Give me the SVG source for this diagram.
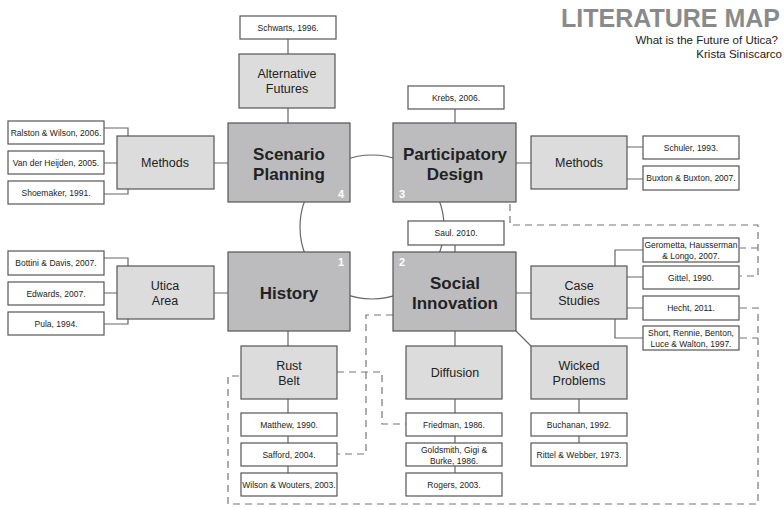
<svg xmlns="http://www.w3.org/2000/svg" width="784" height="508" viewBox="0 0 784 508">
<style>
text{font-family:"Liberation Sans",Arial,sans-serif;text-anchor:middle;fill:#222}
.m rect{fill:#bcbcbe;stroke:#555;stroke-width:1.2}
.m text{font-size:17px;font-weight:bold}
.m .n{font-size:11px;fill:#fff}
.s rect{fill:#dcdcdd;stroke:#555;stroke-width:1.2}
.s text{font-size:12.5px}
.r rect{fill:#fff;stroke:#555;stroke-width:1.2}
.r text{font-size:8.5px}
.c path,.c circle,.c line{fill:none;stroke:#666;stroke-width:1.2}
.d path{fill:none;stroke:#777;stroke-width:1.2;stroke-dasharray:7,5}
</style>
<g id="title">
<text x="780" y="27" style="font-size:25px;font-weight:bold;fill:#8a8a8a;text-anchor:end">LITERATURE MAP</text>
<text x="778" y="44" style="font-size:11.5px;text-anchor:end">What is the Future of Utica?</text>
<text x="782" y="58" style="font-size:11.5px;text-anchor:end">Krista Siniscarco</text>
</g>
<g id="connectors" class="c">
<circle cx="372" cy="227" r="72"/>
<path d="M288 39V54M288 108V123M214 163H228M104 163H117M104 128H128V136M104 194H128V189"/>
<path d="M455 109V123M455 245V252M516 163H531M627 147H643M627 179H643"/>
<path d="M214 293H228M104 293H117M104 258H128V266M104 324H128V319"/>
<path d="M288 331V346M288 399V413M288 436V443M288 466V473"/>
<path d="M455 331V346M455 399V413M455 436V443M455 466V473"/>
<path d="M516 331L531 346M579 399V413M579 436V443"/>
<path d="M516 293H531M615 266V250H643M627 277H643M627 308H643M615 319V338H643"/>
</g>
<g class="d">
<path d="M510 204V225H758V276H740M758 248H740"/>
<path d="M740 308H758V504H228V376H241M740 338H758"/>
<path d="M393 315H366V454H337"/>
<path d="M337 372H382V424H406"/>
</g>
<g id="scenario" class="m"><rect x="228" y="123" width="122" height="79"/><text x="289" y="160">Scenario</text><text x="289" y="180">Planning</text><text class="n" x="341" y="198">4</text></g>
<g id="participatory" class="m"><rect x="393" y="123" width="123" height="79"/><text x="455" y="160">Participatory</text><text x="455" y="180">Design</text><text class="n" x="402" y="198">3</text></g>
<g id="history" class="m"><rect x="228" y="252" width="122" height="79"/><text x="289" y="299">History</text><text class="n" x="341" y="266">1</text></g>
<g id="social" class="m"><rect x="393" y="252" width="123" height="79"/><text x="455" y="289">Social</text><text x="455" y="309">Innovation</text><text class="n" x="402" y="266">2</text></g>
<g id="altfutures" class="s"><rect x="239" y="54" width="96" height="54"/><text x="287" y="78">Alternative</text><text x="287" y="93">Futures</text></g>
<g id="methods1" class="s"><rect x="117" y="136" width="97" height="53"/><text x="165" y="167">Methods</text></g>
<g id="methods2" class="s"><rect x="531" y="136" width="96" height="53"/><text x="579" y="167">Methods</text></g>
<g id="utica" class="s"><rect x="117" y="266" width="97" height="53"/><text x="165" y="290">Utica</text><text x="165" y="305">Area</text></g>
<g id="rustbelt" class="s"><rect x="241" y="346" width="96" height="53"/><text x="289" y="370">Rust</text><text x="289" y="385">Belt</text></g>
<g id="diffusion" class="s"><rect x="406" y="346" width="96" height="53"/><text x="455" y="377">Diffusion</text></g>
<g id="wicked" class="s"><rect x="531" y="346" width="96" height="53"/><text x="579" y="370">Wicked</text><text x="579" y="385">Problems</text></g>
<g id="case" class="s"><rect x="531" y="266" width="96" height="53"/><text x="579" y="290">Case</text><text x="579" y="305">Studies</text></g>
<g id="schwarts" class="r"><rect x="240" y="16" width="96" height="23"/><text x="288" y="31">Schwarts, 1996.</text></g>
<g id="krebs" class="r"><rect x="408" y="86" width="96" height="23"/><text x="456" y="101">Krebs, 2006.</text></g>
<g id="saul" class="r"><rect x="408" y="221" width="96" height="24"/><text x="456" y="236">Saul. 2010.</text></g>
<g id="ralston" class="r"><rect x="8" y="121" width="96" height="23"/><text x="56" y="136">Ralston &amp; Wilson, 2006.</text></g>
<g id="vdh" class="r"><rect x="8" y="151" width="96" height="23"/><text x="56" y="166">Van der Heijden, 2005.</text></g>
<g id="shoemaker" class="r"><rect x="8" y="181" width="96" height="23"/><text x="56" y="196">Shoemaker, 1991.</text></g>
<g id="schuler" class="r"><rect x="643" y="136" width="96" height="23"/><text x="691" y="151">Schuler, 1993.</text></g>
<g id="buxton" class="r"><rect x="643" y="166" width="96" height="24"/><text x="691" y="181">Buxton &amp; Buxton, 2007.</text></g>
<g id="bottini" class="r"><rect x="8" y="251" width="96" height="24"/><text x="56" y="266">Bottini &amp; Davis, 2007.</text></g>
<g id="edwards" class="r"><rect x="8" y="282" width="96" height="23"/><text x="56" y="297">Edwards, 2007.</text></g>
<g id="pula" class="r"><rect x="8" y="312" width="96" height="23"/><text x="56" y="327">Pula, 1994.</text></g>
<g id="gerometta" class="r"><rect x="643" y="238" width="96" height="24"/><text x="691" y="248">Gerometta, Hausserman</text><text x="691" y="259">&amp; Longo, 2007.</text></g>
<g id="gittel" class="r"><rect x="643" y="266" width="96" height="23"/><text x="691" y="281">Gittel, 1990.</text></g>
<g id="hecht" class="r"><rect x="643" y="296" width="96" height="24"/><text x="691" y="311">Hecht, 2011.</text></g>
<g id="short" class="r"><rect x="643" y="326" width="96" height="24"/><text x="691" y="336">Short, Rennie, Benton,</text><text x="691" y="347">Luce &amp; Walton, 1997.</text></g>
<g id="matthew" class="r"><rect x="241" y="413" width="96" height="23"/><text x="289" y="428">Matthew, 1990.</text></g>
<g id="safford" class="r"><rect x="241" y="443" width="96" height="23"/><text x="289" y="458">Safford, 2004.</text></g>
<g id="wilson" class="r"><rect x="241" y="473" width="96" height="23"/><text x="289" y="488">Wilson &amp; Wouters, 2003.</text></g>
<g id="friedman" class="r"><rect x="406" y="413" width="96" height="23"/><text x="454" y="428">Friedman, 1986.</text></g>
<g id="goldsmith" class="r"><rect x="406" y="443" width="96" height="23"/><text x="454" y="453">Goldsmith, Gigi &amp;</text><text x="454" y="464">Burke, 1986.</text></g>
<g id="rogers" class="r"><rect x="406" y="473" width="96" height="23"/><text x="454" y="488">Rogers, 2003.</text></g>
<g id="buchanan" class="r"><rect x="531" y="413" width="96" height="23"/><text x="579" y="428">Buchanan, 1992.</text></g>
<g id="rittel" class="r"><rect x="531" y="443" width="96" height="23"/><text x="579" y="458">Rittel &amp; Webber, 1973.</text></g>
</svg>
